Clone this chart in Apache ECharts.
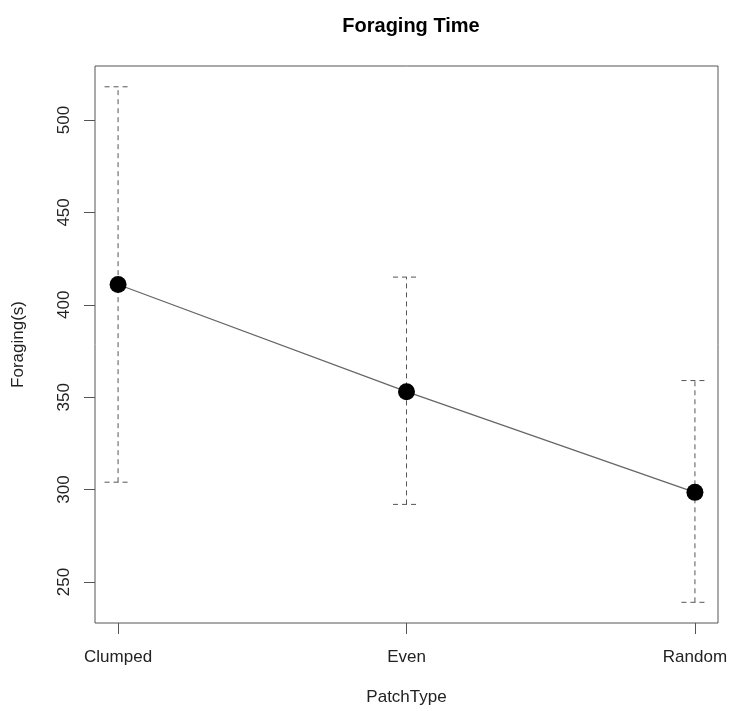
<!DOCTYPE html>
<html><head><meta charset="utf-8">
<script src="https://cdn.jsdelivr.net/npm/echarts@6/dist/echarts.min.js"></script>
<style>html,body{margin:0;padding:0;background:#fff}#c{width:731px;height:711px}</style>
</head><body><div id="c"></div>
<script>
var categories = ['Clumped', 'Even', 'Random'];
var means = [411, 353, 298.5];
var upper = [518, 415, 359];
var lower = [304, 292, 239];
var yTicks = [250, 300, 350, 400, 450, 500];

var FONT = 'Liberation Sans, Arial, Helvetica, sans-serif';
var chart = echarts.init(document.getElementById('c'));
var pts = means.map(function (m, i) { return [i + 1, m]; });
var bars = means.map(function (m, i) { return [i + 1, lower[i], upper[i]]; });

chart.setOption({
  animation: false,
  backgroundColor: '#fff',
  title: {
    text: 'Foraging Time', left: 406, top: 11, textAlign: 'center',
    textStyle: { fontFamily: FONT, fontSize: 20, fontWeight: 'bold', color: '#000' }
  },
  grid: { left: 95, right: 13, top: 66, bottom: 88, show: true, borderColor: '#555', borderWidth: 1, backgroundColor: 'transparent' },
  xAxis: {
    type: 'value', min: 0.92, max: 3.08,
    name: 'PatchType', nameLocation: 'middle', nameGap: 66,
    nameTextStyle: { fontFamily: FONT, fontSize: 17, color: '#222' },
    axisLine: { show: false },
    splitLine: { show: false },
    axisTick: { show: true, customValues: [1, 2, 3], length: 11, lineStyle: { color: '#555' } },
    axisLabel: { customValues: [1, 2, 3], margin: 26, fontFamily: FONT, fontSize: 17, color: '#222',
      formatter: function (v) { return categories[Math.round(v) - 1] || ''; } }
  },
  yAxis: {
    type: 'value', min: 227.8, max: 529.25,
    name: 'Foraging(s)', nameLocation: 'middle', nameGap: 68, nameRotate: 90,
    nameTextStyle: { fontFamily: FONT, fontSize: 17, color: '#222' },
    axisLine: { show: false },
    splitLine: { show: false },
    axisTick: { show: true, customValues: yTicks, length: 11, lineStyle: { color: '#555' } },
    axisLabel: { customValues: yTicks, rotate: 90, margin: 22, fontFamily: FONT, fontSize: 17, color: '#222' }
  },
  series: [
    {
      type: 'custom', z: 1,
      data: bars,
      renderItem: function (params, api) {
        var x = api.value(0);
        var lo = api.coord([x, api.value(1)]);
        var hi = api.coord([x, api.value(2)]);
        var hw = 13.5;
        var st = { stroke: '#555', lineWidth: 1, lineDash: [5, 4] };
        return {
          type: 'group', children: [
            { type: 'line', shape: { x1: lo[0], y1: lo[1], x2: hi[0], y2: hi[1] }, style: st },
            { type: 'line', shape: { x1: hi[0] - hw, y1: hi[1], x2: hi[0] + hw, y2: hi[1] }, style: st },
            { type: 'line', shape: { x1: lo[0] - hw, y1: lo[1], x2: lo[0] + hw, y2: lo[1] }, style: st }
          ]
        };
      }
    },
    {
      type: 'line', z: 3, data: pts,
      symbol: 'circle', symbolSize: 17,
      itemStyle: { color: '#000' },
      lineStyle: { color: '#666', width: 1.3 }
    }
  ]
});
</script></body></html>
